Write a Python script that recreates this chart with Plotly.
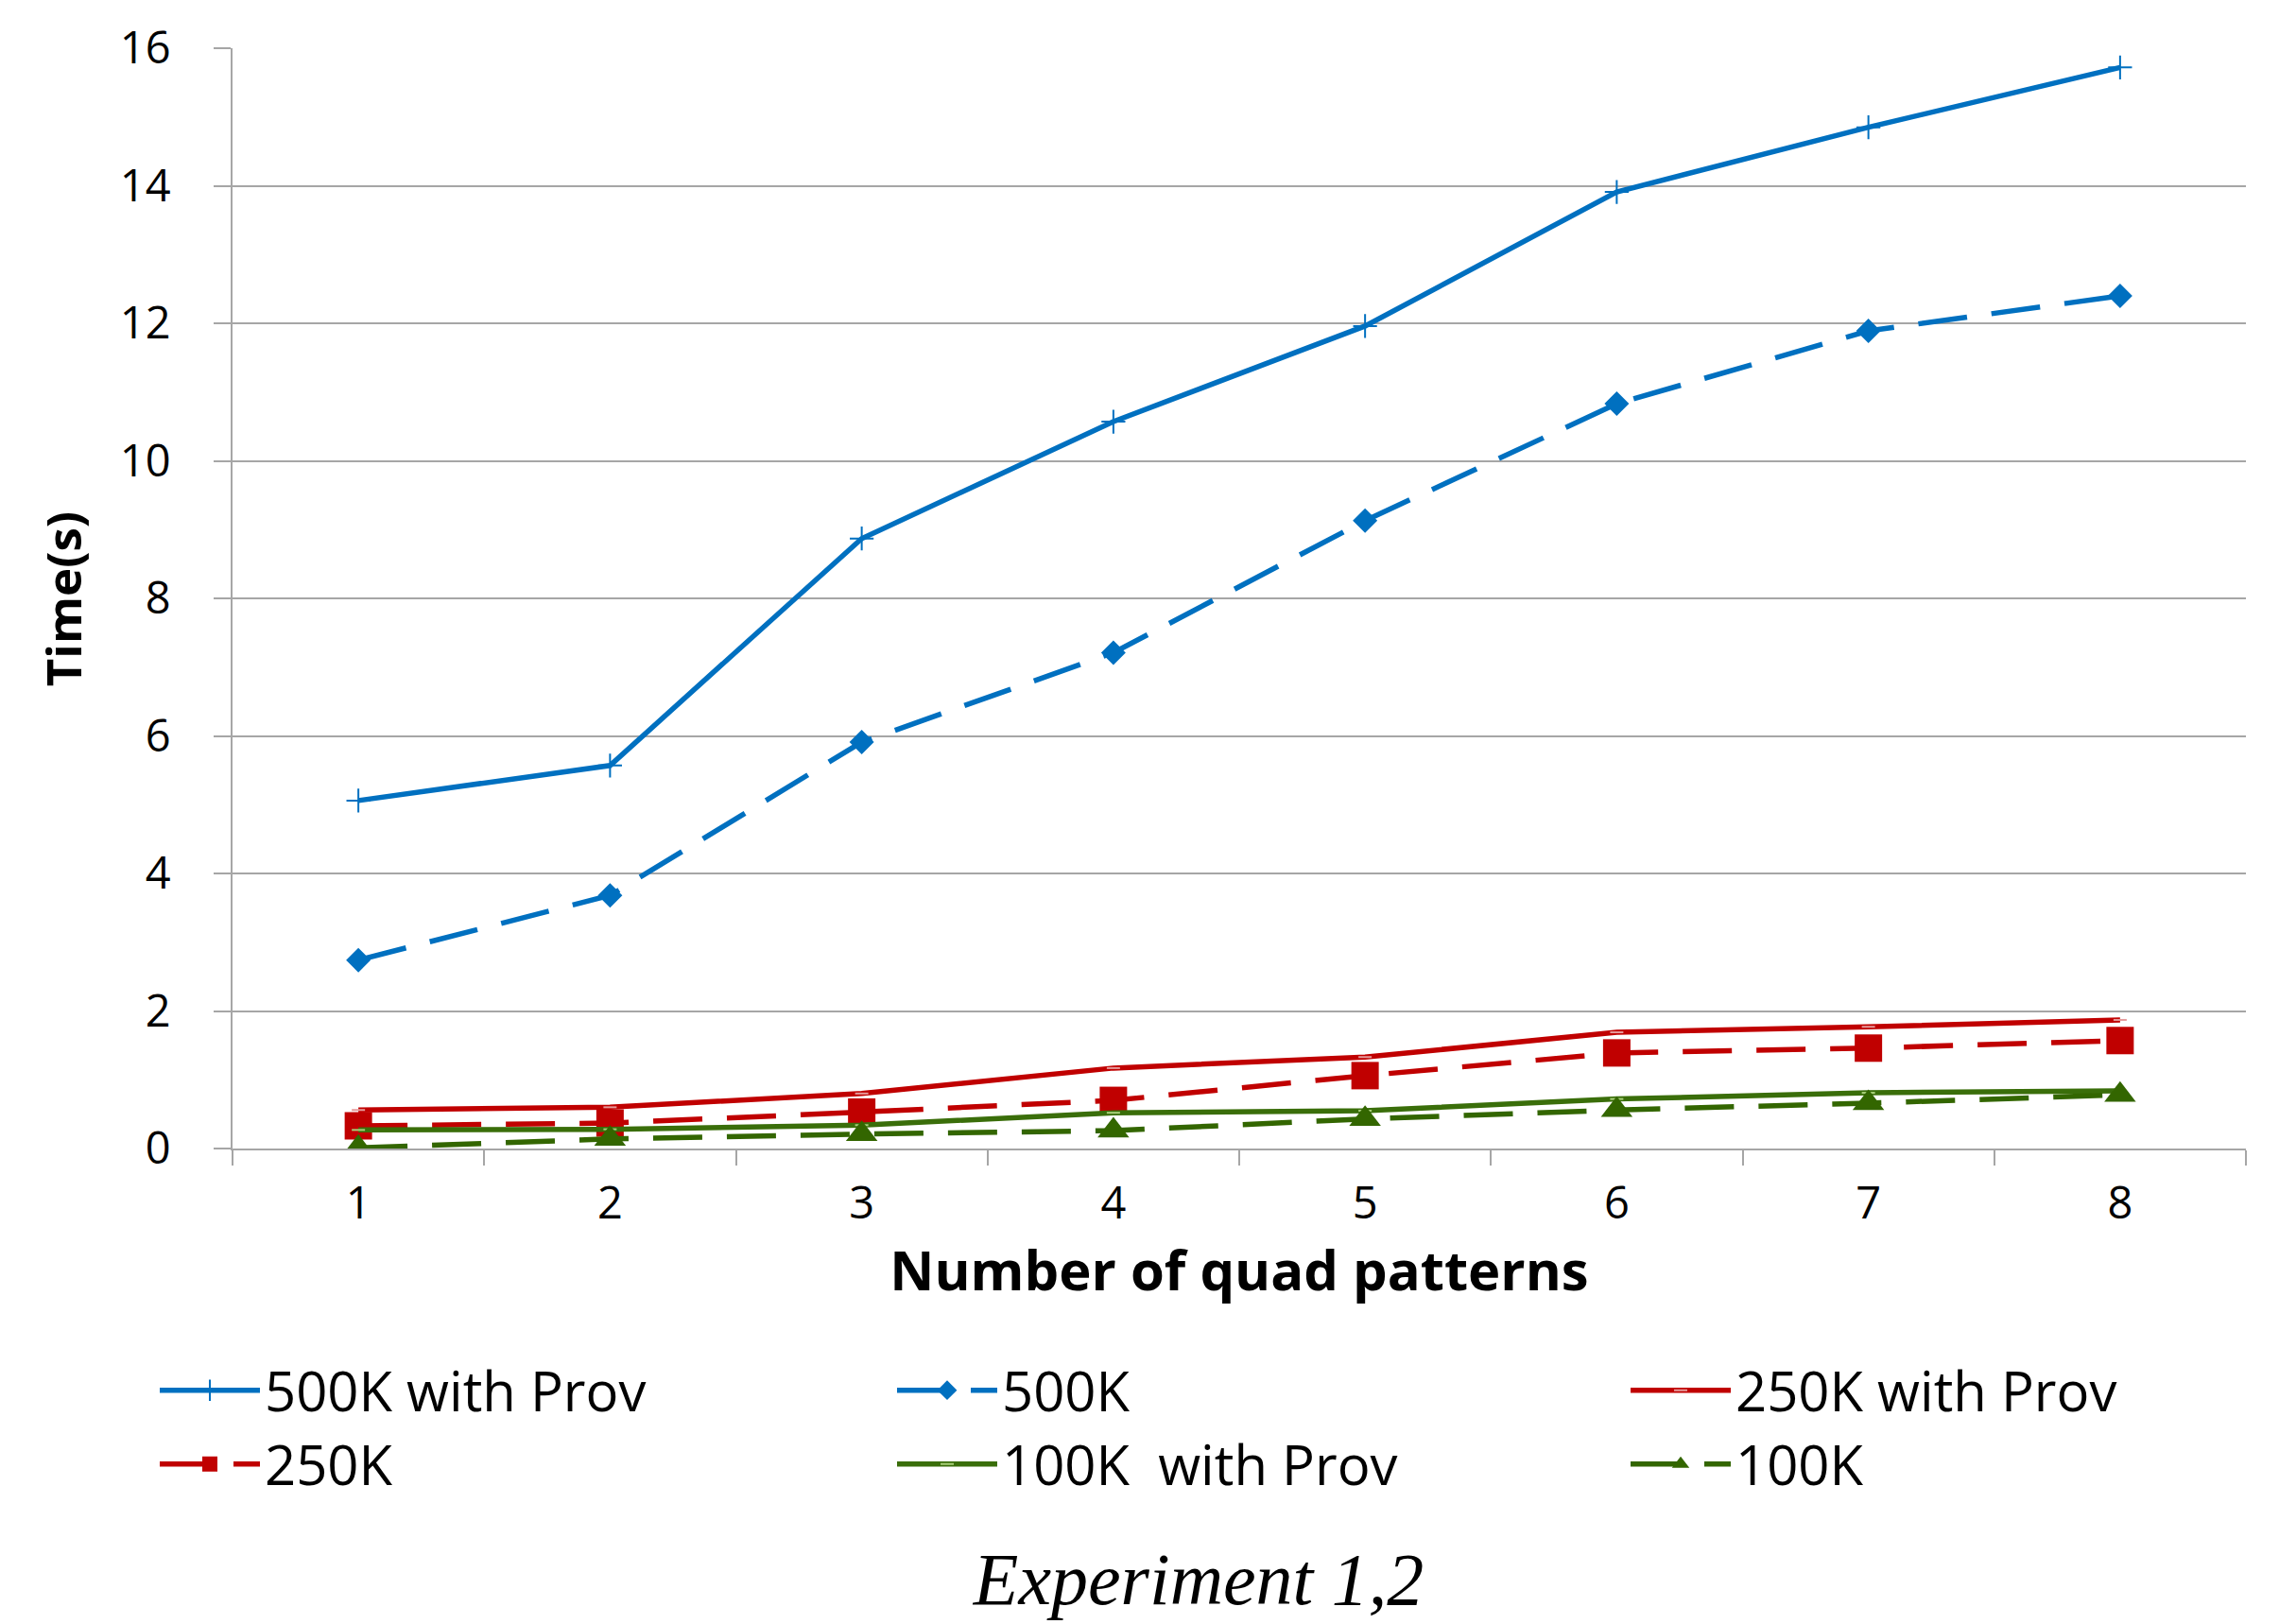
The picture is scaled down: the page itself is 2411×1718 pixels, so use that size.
import plotly.graph_objects as go

categories = ["1", "2", "3", "4", "5", "6", "7", "8"]
s500k_prov = [5.06, 5.57, 8.87, 10.57, 11.96, 13.91, 14.85, 15.72]
s500k = [2.74, 3.68, 5.91, 7.21, 9.13, 10.83, 11.89, 12.40]
s250k_prov = [0.56, 0.60, 0.80, 1.17, 1.33, 1.69, 1.77, 1.87]
s250k = [0.33, 0.37, 0.53, 0.70, 1.06, 1.39, 1.46, 1.57]
s100k_prov = [0.27, 0.28, 0.34, 0.52, 0.55, 0.72, 0.81, 0.84]
s100k = [0.01, 0.14, 0.21, 0.26, 0.43, 0.56, 0.66, 0.78]

BLUE = "#0070C0"
RED = "#C00000"
GREEN = "#3A6E0A"
DGREEN = "#336600"
GRID = "#A6A6A6"
DASH = "52px,26px"

FONT = "Open Sans"

series = [
    ("500K with Prov", s500k_prov, BLUE, "solid", dict(symbol="cross-thin", size=18, line=dict(color=BLUE, width=2)), "legend"),
    ("500K", s500k, BLUE, DASH, dict(symbol="diamond", size=20, color=BLUE), "legend2"),
    ("250K with Prov", s250k_prov, RED, "solid", dict(symbol="line-ew", size=10, line=dict(color="#E59A9A", width=2)), "legend3"),
    ("250K", s250k, RED, DASH, dict(symbol="square", size=29, color=RED), "legend4"),
    ("100K  with Prov", s100k_prov, GREEN, "solid", dict(symbol="line-ew", size=10, line=dict(color="#A8CF7A", width=2)), "legend5"),
    ("100K", s100k, DGREEN, DASH, dict(symbol="triangle-up", size=29, color=DGREEN), "legend6"),
]

fig = go.Figure()
for name, vals, color, dash, marker, leg in series:
    fig.add_trace(go.Scatter(
        x=categories, y=vals, name=name, mode="lines+markers",
        line=dict(color=color, width=5.5, dash=dash),
        marker=marker, legend=leg, showlegend=True,
    ))

# page body has an 8px margin; size the figure so it fills the window
W, H = 2403, 1710
col_x = [156, 936, 1712]
row_y = [1463, 1541]
legend_positions = [
    (col_x[0], row_y[0]), (col_x[1], row_y[0]), (col_x[2], row_y[0]),
    (col_x[0], row_y[1]), (col_x[1], row_y[1]), (col_x[2], row_y[1]),
]
legend_keys = ["legend", "legend2", "legend3", "legend4", "legend5", "legend6"]
leg_layout = {}
for key, (lx, ly) in zip(legend_keys, legend_positions):
    leg_layout[key] = dict(
        x=lx / W, y=1 - ly / H, xref="container", yref="container",
        xanchor="left", yanchor="middle", bgcolor="rgba(0,0,0,0)",
        font=dict(family=FONT, size=58, color="#000000"),
        itemwidth=106,
    )

fig.update_layout(
    width=W, height=H,
    paper_bgcolor="white", plot_bgcolor="white",
    margin=dict(l=238, r=35, t=43, b=503, autoexpand=False),
    title=dict(
        text="Experiment 1,2", x=1260 / W, y=1 - 1662 / H,
        xref="container", yref="container", xanchor="center", yanchor="middle",
        font=dict(family="Liberation Serif", size=78, color="#000000", style="italic"),
    ),
    xaxis=dict(
        type="category", range=[-0.5, 7.5], tickson="boundaries",
        showgrid=False, showline=True, linecolor=GRID, linewidth=2,
        ticks="outside", ticklen=16, tickcolor=GRID, tickwidth=2,
        ticklabelstandoff=16, tickangle=0,
        tickfont=dict(family=FONT, size=47, color="#000000"),
        title=dict(text="<b>Number of quad patterns</b>", standoff=22,
                   font=dict(family=FONT, size=58, color="#000000")),
    ),
    yaxis=dict(
        range=[0, 16], dtick=2, tick0=0,
        showgrid=True, gridcolor=GRID, gridwidth=2,
        showline=True, linecolor=GRID, linewidth=2, zeroline=False,
        ticks="outside", ticklen=18, tickcolor=GRID, tickwidth=2,
        ticklabelstandoff=36,
        tickfont=dict(family=FONT, size=47, color="#000000"),
    ),
    annotations=[dict(
        text="<b>Time(s)</b>", textangle=-90, showarrow=False,
        xref="paper", yref="paper", x=(66 - 246) / 2130, y=0.499,
        xanchor="center", yanchor="middle",
        font=dict(family=FONT, size=51, color="#000000"),
    )],
    **leg_layout,
)

fig.write_html("out.html")
